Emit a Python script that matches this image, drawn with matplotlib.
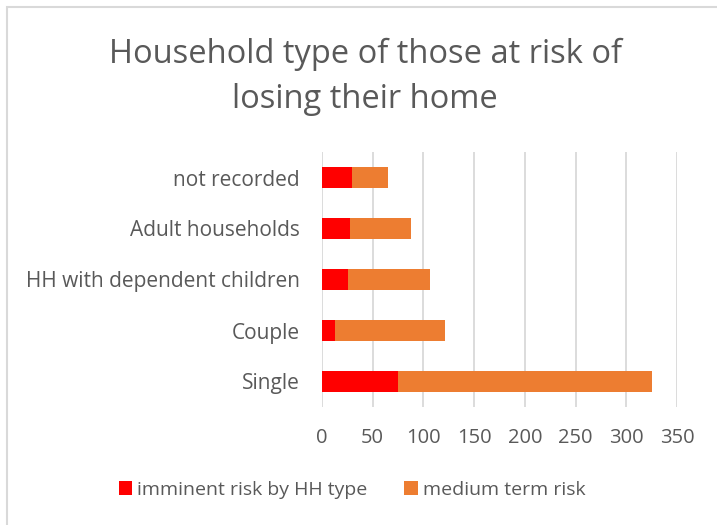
import matplotlib.pyplot as plt
from matplotlib.patches import Rectangle

categories = ["Single", "Couple", "HH with dependent children", "Adult households", "not recorded"]
imminent = [75, 13, 26, 28, 30]
medium = [250, 108, 80, 60, 35]
xticks = [0, 50, 100, 150, 200, 250, 300, 350]
title = "Household type of those at risk of\nlosing their home"
legend_labels = ["imminent risk by HH type", "medium term risk"]

plt.rcParams['font.family'] = ['Open Sans', 'DejaVu Sans']
grey = '#595959'

fig = plt.figure(figsize=(7.17, 5.25), dpi=100)
fig.patches.append(Rectangle((7/717, -0.1), 1.2, 1 - 7/525 + 0.1, transform=fig.transFigure,
                             fill=False, edgecolor='#d9d9d9', linewidth=1.5))
ax = fig.add_axes([322/717, 1 - 407/525, (677 - 322)/717, (407 - 152)/525])

y = list(range(len(categories)))
ax.barh(y, imminent, height=0.41, color='#ff0000', label=legend_labels[0], zorder=3)
ax.barh(y, medium, left=imminent, height=0.41, color='#ed7d31', label=legend_labels[1], zorder=3)

ax.set_xlim(0, 350)
ax.set_ylim(-0.5, 4.5)
ax.set_xticks(xticks)
ax.set_xticklabels([str(t) for t in xticks])
ax.set_yticks(y)
ax.set_yticklabels(categories)
ax.tick_params(axis='y', length=0, labelsize=15, colors=grey, pad=16)
ax.tick_params(axis='x', length=0, labelsize=14.5, colors=grey, pad=15)
for s in ax.spines.values():
    s.set_visible(False)
ax.grid(axis='x', color='#d9d9d9', linewidth=1.3, zorder=0)

fig.text(365/717, 1 - 77/525, title, ha='center', va='center', fontsize=23.5,
         color=grey, linespacing=1.5)

fig.legend(loc='center', bbox_to_anchor=(352/717, 1 - 490/525), ncol=2, frameon=False,
           fontsize=14, labelcolor=grey, handlelength=0.7, handleheight=0.7,
           handletextpad=0.25, columnspacing=1.9)

fig.savefig('out.png', dpi=100)
